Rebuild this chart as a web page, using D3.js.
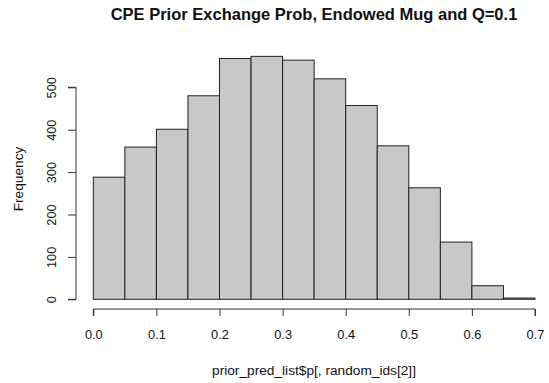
<!DOCTYPE html>
<html>
<head>
<meta charset="utf-8">
<script src="https://cdn.jsdelivr.net/npm/d3@7"></script>
<style>
  html, body { margin: 0; padding: 0; background: #fff; }
  svg { display: block; font-family: "Liberation Sans", Arial, sans-serif; }
</style>
</head>
<body>
<svg id="chart" width="549" height="383"></svg>
<script>
// Histogram bins (left edges) and counts
const binStarts = [0.00, 0.05, 0.10, 0.15, 0.20, 0.25, 0.30, 0.35, 0.40, 0.45, 0.50, 0.55, 0.60, 0.65];
const binWidth = 0.05;
const counts = [288, 359, 401, 480, 568, 573, 564, 520, 457, 362, 263, 135, 32, 3];
const xTicks = [0, 0.1, 0.2, 0.3, 0.4, 0.5, 0.6, 0.7];
const yTicks = [0, 100, 200, 300, 400, 500];

const title = "CPE Prior Exchange Prob, Endowed Mug and Q=0.1";
const xLabel = "prior_pred_list$p[, random_ids[2]]";
const yLabel = "Frequency";

const svg = d3.select("#chart");
const font = "Liberation Sans, Arial, sans-serif";

const x = d3.scaleLinear().domain([0, 0.7]).range([93.3, 535]);
const y = d3.scaleLinear().domain([0, 500]).range([299.3, 87.3]);

// Bars
svg.append("g")
  .selectAll("rect")
  .data(binStarts.map((s, i) => ({ s, c: counts[i] })))
  .join("rect")
  .attr("x", d => x(d.s))
  .attr("y", d => y(d.c))
  .attr("width", d => x(d.s + binWidth) - x(d.s))
  .attr("height", d => y(0) - y(d.c))
  .attr("fill", "#c8c8c8")
  .attr("stroke", "#222")
  .attr("stroke-width", 1);

// X axis (offset below the bars)
const xAxis = svg.append("g")
  .attr("transform", "translate(0,309)")
  .call(d3.axisBottom(x).tickValues(xTicks).tickFormat(d3.format(".1f")).tickSize(7).tickPadding(14));
xAxis.select(".domain").attr("stroke", "#333").attr("d", `M${x(0)},7V0H${x(0.7)}V7`);
xAxis.selectAll(".tick line").attr("stroke", "#333");
xAxis.selectAll("text").attr("font-size", 12.8).attr("fill", "#111").attr("font-family", font);

// Y axis (offset left of the bars)
const yAxis = svg.append("g")
  .attr("transform", "translate(76,0)")
  .call(d3.axisLeft(y).tickValues(yTicks).tickSize(8).tickPadding(0));
yAxis.select(".domain").attr("stroke", "#333").attr("d", `M-8,${y(0)}H0V${y(500)}H-8`);
yAxis.selectAll(".tick line").attr("stroke", "#333");
yAxis.selectAll(".tick text")
  .attr("font-size", 12.8).attr("fill", "#111").attr("font-family", font)
  .attr("text-anchor", "middle")
  .attr("x", null).attr("dy", null)
  .attr("transform", "translate(-20,0) rotate(-90)");

// Title
svg.append("text")
  .attr("x", 314).attr("y", 20)
  .attr("text-anchor", "middle")
  .attr("font-size", 16.5).attr("font-weight", "bold").attr("fill", "#111")
  .text(title);

// Axis titles
svg.append("text")
  .attr("x", 314).attr("y", 375)
  .attr("text-anchor", "middle")
  .attr("font-size", 13.7).attr("fill", "#111")
  .text(xLabel);

svg.append("text")
  .attr("transform", "translate(23,179) rotate(-90)")
  .attr("text-anchor", "middle")
  .attr("font-size", 13.7).attr("fill", "#111")
  .text(yLabel);
</script>
</body>
</html>
